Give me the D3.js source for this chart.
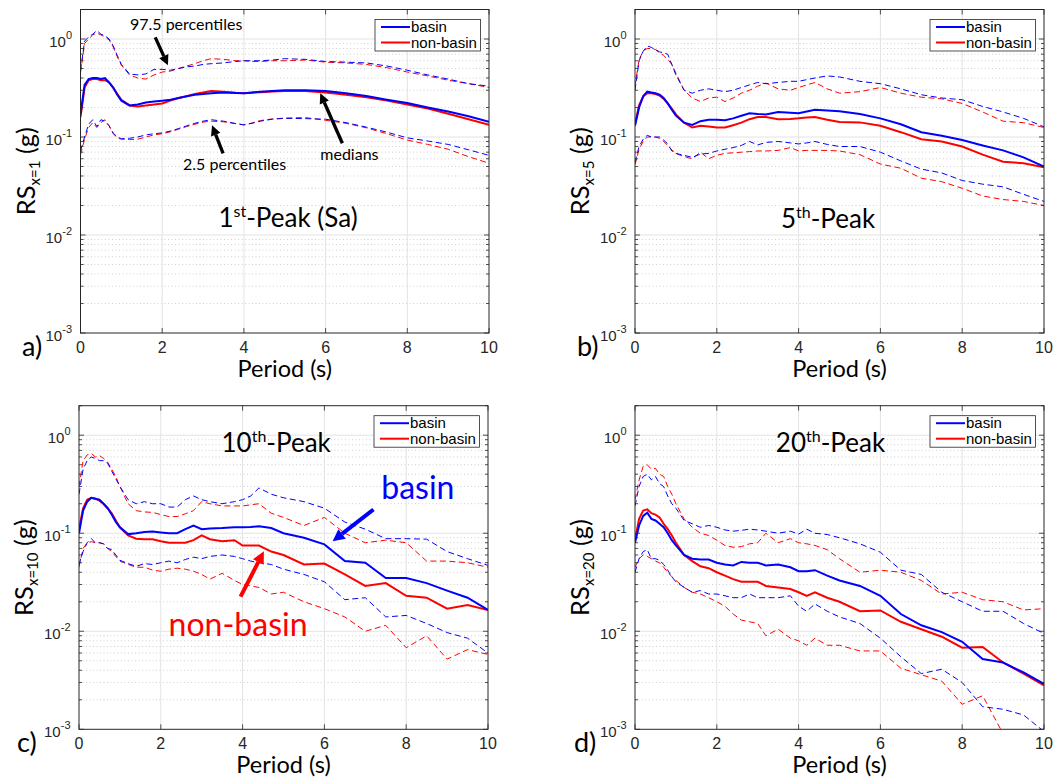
<!DOCTYPE html>
<html>
<head>
<meta charset="utf-8">
<script src="https://cdn.jsdelivr.net/npm/d3@7"></script>
<style>
  body { margin: 0; background: #fff; }
  svg { display: block; }
</style>
</head>
<body>
<svg id="chart" width="1056" height="780"></svg>
<script>
// periods (s) shared by every curve
const periods = [0, 0.1, 0.2, 0.3, 0.4, 0.5, 0.6, 0.7, 0.8, 0.9, 1.0, 1.2, 1.4, 1.6, 1.8, 2.0, 2.2, 2.4, 2.6, 2.8,
  3.0, 3.2, 3.5, 3.8, 4.0, 4.2, 4.4, 4.7, 5.0, 5.5, 6.0, 6.5, 7.0, 7.5, 8.0, 8.5, 9.0, 9.5, 10];

// a) 1st peak
const aBasinHi = [0.48, 0.95, 1.05, 1.12, 1.22, 1.12, 1.08, 1.0, 0.85, 0.68, 0.55, 0.44, 0.43, 0.44, 0.49, 0.49, 0.48, 0.5, 0.52, 0.53,
  0.55, 0.56, 0.57, 0.59, 0.6, 0.6, 0.6, 0.61, 0.63, 0.62, 0.59, 0.58, 0.57, 0.53, 0.48, 0.43, 0.39, 0.35, 0.33];
const aNonHi = [0.45, 0.9, 1.0, 1.1, 1.15, 1.1, 1.05, 0.98, 0.83, 0.66, 0.54, 0.43, 0.4, 0.39, 0.43, 0.46, 0.47, 0.5, 0.53, 0.56,
  0.6, 0.63, 0.62, 0.6, 0.6, 0.59, 0.59, 0.6, 0.6, 0.61, 0.58, 0.57, 0.55, 0.51, 0.46, 0.42, 0.38, 0.35, 0.32];
const aBasinMed = [0.17, 0.34, 0.39, 0.4, 0.4, 0.39, 0.4, 0.36, 0.32, 0.27, 0.235, 0.21, 0.215, 0.225, 0.23, 0.235, 0.24, 0.25, 0.26, 0.27,
  0.275, 0.28, 0.285, 0.282, 0.28, 0.285, 0.29, 0.295, 0.3, 0.3, 0.295, 0.28, 0.262, 0.24, 0.222, 0.2, 0.182, 0.163, 0.143];
const aNonMed = [0.16, 0.32, 0.38, 0.39, 0.39, 0.38, 0.38, 0.36, 0.32, 0.275, 0.24, 0.21, 0.205, 0.21, 0.215, 0.22, 0.235, 0.25, 0.26, 0.275,
  0.285, 0.295, 0.29, 0.283, 0.28, 0.283, 0.287, 0.292, 0.295, 0.295, 0.285, 0.27, 0.255, 0.235, 0.215, 0.195, 0.173, 0.152, 0.133];
const aBasinLo = [0.072, 0.1, 0.135, 0.15, 0.128, 0.15, 0.145, 0.13, 0.11, 0.1, 0.096, 0.097, 0.1, 0.105, 0.108, 0.11, 0.115, 0.122, 0.13, 0.138,
  0.145, 0.15, 0.145, 0.137, 0.133, 0.138, 0.145, 0.152, 0.155, 0.154, 0.152, 0.14, 0.126, 0.112, 0.098, 0.091, 0.084, 0.074, 0.065];
const aNonLo = [0.066, 0.095, 0.125, 0.14, 0.125, 0.14, 0.15, 0.13, 0.108, 0.098, 0.095, 0.094, 0.095, 0.1, 0.105, 0.108, 0.113, 0.12, 0.128, 0.135,
  0.142, 0.145, 0.143, 0.137, 0.133, 0.139, 0.147, 0.153, 0.156, 0.158, 0.148, 0.138, 0.124, 0.108, 0.093, 0.084, 0.075, 0.063, 0.054];

// b) 5th peak
const bBasinHi = [0.3, 0.6, 0.75, 0.85, 0.82, 0.78, 0.74, 0.72, 0.7, 0.55, 0.43, 0.3, 0.28, 0.3, 0.31, 0.3, 0.29, 0.3, 0.32, 0.34,
  0.36, 0.35, 0.36, 0.37, 0.37, 0.385, 0.4, 0.42, 0.41, 0.37, 0.35, 0.31, 0.27, 0.25, 0.24, 0.205, 0.18, 0.155, 0.127];
const bNonHi = [0.33, 0.62, 0.75, 0.8, 0.8, 0.78, 0.72, 0.68, 0.62, 0.55, 0.45, 0.3, 0.25, 0.23, 0.25, 0.255, 0.23, 0.25, 0.28, 0.3,
  0.33, 0.355, 0.31, 0.3, 0.32, 0.34, 0.36, 0.31, 0.28, 0.29, 0.32, 0.28, 0.255, 0.245, 0.22, 0.18, 0.145, 0.14, 0.125];
const bBasinMed = [0.13, 0.2, 0.26, 0.29, 0.285, 0.28, 0.27, 0.25, 0.22, 0.19, 0.165, 0.14, 0.133, 0.145, 0.15, 0.15, 0.148, 0.155, 0.165, 0.175,
  0.172, 0.17, 0.18, 0.177, 0.175, 0.182, 0.19, 0.186, 0.183, 0.172, 0.155, 0.135, 0.112, 0.103, 0.093, 0.082, 0.073, 0.062, 0.05];
const bNonMed = [0.135, 0.21, 0.26, 0.28, 0.28, 0.275, 0.265, 0.245, 0.22, 0.195, 0.17, 0.14, 0.125, 0.13, 0.128, 0.125, 0.125, 0.132, 0.14, 0.152,
  0.16, 0.16, 0.152, 0.153, 0.155, 0.158, 0.16, 0.15, 0.142, 0.141, 0.13, 0.112, 0.095, 0.09, 0.08, 0.066, 0.056, 0.054, 0.049];
const bBasinLo = [0.055, 0.08, 0.095, 0.104, 0.1, 0.1, 0.1, 0.093, 0.085, 0.072, 0.068, 0.065, 0.062, 0.067, 0.068, 0.072, 0.075, 0.078, 0.082, 0.09,
  0.083, 0.088, 0.09, 0.087, 0.085, 0.087, 0.09, 0.084, 0.08, 0.08, 0.07, 0.057, 0.047, 0.043, 0.036, 0.033, 0.031, 0.026, 0.022];
const bNonLo = [0.052, 0.075, 0.09, 0.1, 0.1, 0.1, 0.097, 0.09, 0.082, 0.074, 0.068, 0.063, 0.06, 0.07, 0.06, 0.065, 0.068, 0.069, 0.07, 0.071,
  0.072, 0.072, 0.073, 0.078, 0.072, 0.073, 0.073, 0.073, 0.072, 0.066, 0.053, 0.048, 0.038, 0.035, 0.03, 0.025, 0.023, 0.022, 0.02];

// c) 10th peak
const cBasinHi = [0.25, 0.45, 0.55, 0.6, 0.58, 0.55, 0.55, 0.52, 0.43, 0.36, 0.3, 0.22, 0.2, 0.21, 0.2, 0.2, 0.185, 0.185, 0.22, 0.24,
  0.22, 0.21, 0.2, 0.21, 0.22, 0.24, 0.29, 0.25, 0.23, 0.21, 0.18, 0.13, 0.11, 0.088, 0.088, 0.087, 0.065, 0.055, 0.047];
const cNonHi = [0.3, 0.55, 0.63, 0.65, 0.6, 0.62, 0.58, 0.53, 0.45, 0.38, 0.3, 0.2, 0.17, 0.165, 0.163, 0.155, 0.148, 0.148, 0.158, 0.17,
  0.21, 0.2, 0.19, 0.19, 0.19, 0.195, 0.2, 0.16, 0.145, 0.12, 0.145, 0.1, 0.08, 0.085, 0.08, 0.052, 0.052, 0.05, 0.045];
const cBasinMed = [0.1, 0.17, 0.21, 0.23, 0.225, 0.22, 0.2, 0.18, 0.155, 0.13, 0.115, 0.098, 0.1, 0.103, 0.104, 0.102, 0.1, 0.1, 0.11, 0.12,
  0.11, 0.112, 0.113, 0.115, 0.115, 0.116, 0.118, 0.113, 0.1, 0.09, 0.077, 0.052, 0.05, 0.035, 0.035, 0.031, 0.026, 0.022, 0.0165];
const cNonMed = [0.11, 0.18, 0.22, 0.23, 0.225, 0.215, 0.2, 0.18, 0.16, 0.135, 0.115, 0.095, 0.088, 0.087, 0.087, 0.083, 0.08, 0.08, 0.08, 0.085,
  0.095, 0.087, 0.083, 0.085, 0.075, 0.075, 0.075, 0.065, 0.06, 0.048, 0.049, 0.038, 0.029, 0.031, 0.023, 0.022, 0.017, 0.0185, 0.0165];
const cBasinLo = [0.048, 0.065, 0.08, 0.088, 0.08, 0.08, 0.078, 0.07, 0.068, 0.06, 0.053, 0.049, 0.046, 0.049, 0.048, 0.05, 0.052, 0.05, 0.054, 0.057,
  0.055, 0.058, 0.06, 0.058, 0.055, 0.052, 0.05, 0.048, 0.043, 0.038, 0.032, 0.021, 0.022, 0.014, 0.0145, 0.012, 0.0097, 0.0085, 0.006];
const cNonLo = [0.045, 0.07, 0.08, 0.082, 0.08, 0.08, 0.078, 0.07, 0.065, 0.058, 0.052, 0.048, 0.045, 0.045, 0.042, 0.041, 0.043, 0.044, 0.043, 0.041,
  0.038, 0.034, 0.039, 0.033, 0.03, 0.029, 0.028, 0.024, 0.025, 0.02, 0.017, 0.014, 0.01, 0.0115, 0.0068, 0.009, 0.0052, 0.0065, 0.0058];

// d) 20th peak
const dBasinHi = [0.19, 0.3, 0.38, 0.4, 0.35, 0.38, 0.32, 0.3, 0.24, 0.2, 0.18, 0.135, 0.125, 0.115, 0.12, 0.115, 0.108, 0.105, 0.107, 0.11,
  0.108, 0.105, 0.1, 0.105, 0.098, 0.11, 0.1, 0.097, 0.09, 0.078, 0.064, 0.042, 0.038, 0.025, 0.02, 0.016, 0.016, 0.012, 0.0095];
const dNonHi = [0.22, 0.35, 0.48, 0.5, 0.45, 0.46, 0.4, 0.38, 0.3, 0.25, 0.2, 0.14, 0.115, 0.1, 0.095, 0.085, 0.075, 0.072, 0.073, 0.078,
  0.08, 0.1, 0.08, 0.088, 0.08, 0.078, 0.075, 0.068, 0.055, 0.04, 0.042, 0.04, 0.033, 0.024, 0.025, 0.021, 0.02, 0.0165, 0.017];
const dBasinMed = [0.08, 0.12, 0.15, 0.162, 0.14, 0.135, 0.125, 0.115, 0.1, 0.085, 0.075, 0.06, 0.055, 0.054, 0.054, 0.05, 0.048, 0.047, 0.051, 0.05,
  0.05, 0.047, 0.048, 0.045, 0.041, 0.041, 0.042, 0.037, 0.033, 0.029, 0.023, 0.015, 0.0115, 0.0098, 0.0078, 0.0052, 0.0048, 0.0038, 0.0029];
const dNonMed = [0.085, 0.14, 0.17, 0.175, 0.16, 0.155, 0.145, 0.125, 0.11, 0.095, 0.08, 0.06, 0.052, 0.046, 0.044, 0.04, 0.037, 0.034, 0.032, 0.032,
  0.032, 0.029, 0.028, 0.027, 0.025, 0.023, 0.025, 0.022, 0.02, 0.016, 0.0163, 0.0125, 0.0105, 0.0088, 0.0068, 0.0069, 0.0048, 0.0037, 0.0028];
const dBasinLo = [0.04, 0.055, 0.065, 0.068, 0.055, 0.055, 0.053, 0.048, 0.042, 0.036, 0.032, 0.028, 0.025, 0.026, 0.024, 0.024, 0.023, 0.022, 0.022, 0.024,
  0.022, 0.022, 0.022, 0.023, 0.018, 0.016, 0.019, 0.016, 0.014, 0.012, 0.0085, 0.0055, 0.0037, 0.0041, 0.003, 0.0017, 0.0016, 0.0014, 0.00095];
const dNonLo = [0.045, 0.055, 0.06, 0.058, 0.055, 0.052, 0.05, 0.045, 0.04, 0.036, 0.033, 0.028, 0.025, 0.024, 0.022, 0.02, 0.018, 0.015, 0.013, 0.0125,
  0.012, 0.009, 0.0105, 0.0085, 0.008, 0.0072, 0.0085, 0.0072, 0.0072, 0.0063, 0.0063, 0.0042, 0.0036, 0.0031, 0.0018, 0.0022, 0.0009, 0.0006, 0.0005];

const xTicks = [0, 2, 4, 6, 8, 10];
const yTicks = [1e-3, 1e-2, 1e-1, 1];
const yTickExp = ['-3', '-2', '-1', '0'];
const legendLabels = ['basin', 'non-basin'];

const BLUE = '#0000ff', RED = '#ff0000', INK = '#262626';
const LABEL_FONT = 'Lato, "Open Sans", sans-serif';
const TICK_FONT = '"Liberation Sans", Arial, sans-serif';

const panels = [
  { tag: 'a)', tagDx: -58.5, sub: 'x=1', left: 80.5, right: 489, top: 9.5, bottom: 333,
    basin: [aBasinHi, aBasinMed, aBasinLo], non: [aNonHi, aNonMed, aNonLo],
    title: ['1', 'st', '-Peak (Sa)'], titleAt: [5.08, 0.012] },
  { tag: 'b)', tagDx: -58, sub: 'x=5', left: 635, right: 1044, top: 9.5, bottom: 333,
    basin: [bBasinHi, bBasinMed, bBasinLo], non: [bNonHi, bNonMed, bNonLo],
    title: ['5', 'th', '-Peak'], titleAt: [4.72, 0.0118] },
  { tag: 'c)', tagDx: -62, sub: 'x=10', left: 79, right: 488, top: 405.7, bottom: 729.3,
    basin: [cBasinHi, cBasinMed, cBasinLo], non: [cNonHi, cNonMed, cNonLo],
    title: ['10', 'th', '-Peak'], titleAt: [4.82, 0.67] },
  { tag: 'd)', tagDx: -61, sub: 'x=20', left: 635, right: 1044, top: 405.7, bottom: 729.3,
    basin: [dBasinHi, dBasinMed, dBasinLo], non: [dNonHi, dNonMed, dNonLo],
    title: ['20', 'th', '-Peak'], titleAt: [4.78, 0.67] }
];

const svg = d3.select('#chart');

function arrow(g, x1, y1, x2, y2, color, w, hl, hw) {
  const ang = Math.atan2(y2 - y1, x2 - x1);
  const bx = x2 - hl * Math.cos(ang), by = y2 - hl * Math.sin(ang);
  const px = -Math.sin(ang) * hw / 2, py = Math.cos(ang) * hw / 2;
  g.append('line')
    .attr('x1', x1).attr('y1', y1).attr('x2', bx).attr('y2', by)
    .attr('stroke', color).attr('stroke-width', w);
  g.append('path')
    .attr('d', `M${x2},${y2}L${bx + px},${by + py}L${bx - px},${by - py}Z`)
    .attr('fill', color);
}

panels.forEach((p, i) => {
  const x = d3.scaleLinear().domain([0, 10]).range([p.left, p.right]);
  const y = d3.scaleLog().domain([1e-3, 2]).range([p.bottom, p.top]);
  const g = svg.append('g');

  // grid
  const minors = [];
  [1e-3, 1e-2, 1e-1].forEach(d => { for (let k = 2; k <= 9; k++) minors.push(d * k); });

  g.append('g').selectAll('line').data(minors).join('line')
    .attr('x1', p.left).attr('x2', p.right)
    .attr('y1', d => y(d)).attr('y2', d => y(d))
    .attr('stroke', '#c4c4c4').attr('stroke-width', 0.8).attr('stroke-dasharray', '1,2.5');

  g.append('g').selectAll('line').data([1e-2, 1e-1, 1]).join('line')
    .attr('x1', p.left).attr('x2', p.right)
    .attr('y1', d => y(d)).attr('y2', d => y(d))
    .attr('stroke', '#e3e3e3').attr('stroke-width', 1);

  g.append('g').selectAll('line').data([2, 4, 6, 8]).join('line')
    .attr('x1', d => x(d)).attr('x2', d => x(d))
    .attr('y1', p.top).attr('y2', p.bottom)
    .attr('stroke', '#e3e3e3').attr('stroke-width', 1);

  // curves
  const clipId = 'clip' + i;
  svg.append('clipPath').attr('id', clipId).append('rect')
    .attr('x', p.left).attr('y', p.top)
    .attr('width', p.right - p.left).attr('height', p.bottom - p.top);

  const line = d3.line().x(d => x(d[0])).y(d => y(d[1]));
  const curves = g.append('g').attr('clip-path', `url(#${clipId})`);

  [[p.non, RED], [p.basin, BLUE]].forEach(([set, col]) => {
    set.forEach((vals, j) => {
      curves.append('path')
        .datum(d3.zip(periods, vals))
        .attr('d', line)
        .attr('fill', 'none')
        .attr('stroke', col)
        .attr('stroke-width', j === 1 ? 2 : 1)
        .attr('stroke-dasharray', j === 1 ? null : '6,3.5');
    });
  });

  // axes box with inward ticks
  g.append('rect')
    .attr('x', p.left).attr('y', p.top)
    .attr('width', p.right - p.left).attr('height', p.bottom - p.top)
    .attr('fill', 'none').attr('stroke', INK).attr('stroke-width', 1);

  const ticks = g.append('g').attr('stroke', INK).attr('stroke-width', 0.8);
  xTicks.forEach(t => {
    ticks.append('line').attr('x1', x(t)).attr('x2', x(t)).attr('y1', p.bottom).attr('y2', p.bottom - 5);
    ticks.append('line').attr('x1', x(t)).attr('x2', x(t)).attr('y1', p.top).attr('y2', p.top + 5);
  });
  yTicks.forEach(t => {
    ticks.append('line').attr('x1', p.left).attr('x2', p.left + 5).attr('y1', y(t)).attr('y2', y(t));
    ticks.append('line').attr('x1', p.right).attr('x2', p.right - 5).attr('y1', y(t)).attr('y2', y(t));
  });
  minors.concat([2]).forEach(t => {
    ticks.append('line').attr('x1', p.left).attr('x2', p.left + 3).attr('y1', y(t)).attr('y2', y(t));
    ticks.append('line').attr('x1', p.right).attr('x2', p.right - 3).attr('y1', y(t)).attr('y2', y(t));
  });

  // tick labels
  g.append('g').selectAll('text').data(xTicks).join('text')
    .attr('x', d => x(d)).attr('y', p.bottom + 19.5)
    .attr('text-anchor', 'middle')
    .attr('font-family', TICK_FONT).attr('font-size', 16).attr('fill', INK)
    .text(d => d);

  yTicks.forEach((t, k) => {
    const tx = g.append('text')
      .attr('x', p.left - 8.5).attr('y', y(t) + 8)
      .attr('text-anchor', 'end')
      .attr('font-family', TICK_FONT).attr('font-size', 15).attr('fill', INK);
    tx.append('tspan').text('10');
    tx.append('tspan').attr('dy', -8).attr('font-size', 11).text(yTickExp[k]);
  });

  // axis labels
  g.append('text')
    .attr('x', (p.left + p.right) / 2).attr('y', p.bottom + 43.5)
    .attr('text-anchor', 'middle')
    .attr('font-family', LABEL_FONT).attr('font-size', 23.5).attr('fill', '#000')
    .text('Period (s)');

  const yl = g.append('text')
    .attr('transform', `translate(${p.left - 46},${(p.top + p.bottom) / 2}) rotate(-90)`)
    .attr('text-anchor', 'middle')
    .attr('font-family', LABEL_FONT).attr('font-size', 25.5).attr('fill', '#000');
  yl.append('tspan').text('RS');
  yl.append('tspan').attr('font-size', 15).attr('dy', 5).text(p.sub);
  yl.append('tspan').attr('dy', -5).text(' (g)');

  g.append('text')
    .attr('x', p.left + p.tagDx).attr('y', p.bottom + 23)
    .attr('font-family', LABEL_FONT).attr('font-size', 27).attr('fill', '#000')
    .text(p.tag);

  // title
  const tt = g.append('text')
    .attr('x', x(p.titleAt[0])).attr('y', y(p.titleAt[1]))
    .attr('text-anchor', 'middle')
    .attr('font-family', LABEL_FONT).attr('font-size', 26).attr('fill', '#000');
  tt.append('tspan').text(p.title[0]);
  tt.append('tspan').attr('font-size', 16).attr('dy', -10).text(p.title[1]);
  tt.append('tspan').attr('dy', 10).text(p.title[2]);

  // legend
  const lw = 105.5, lh = 31.5;
  const lx = p.right - 8.5 - lw, ly = p.top + 10;
  const leg = g.append('g');
  leg.append('rect').attr('x', lx).attr('y', ly).attr('width', lw).attr('height', lh)
    .attr('fill', '#fff').attr('stroke', INK).attr('stroke-width', 0.8);
  legendLabels.forEach((lab, k) => {
    const yy = ly + 7.5 + k * 15.5;
    leg.append('line').attr('x1', lx + 6).attr('x2', lx + 35).attr('y1', yy).attr('y2', yy)
      .attr('stroke', k === 0 ? BLUE : RED).attr('stroke-width', 2);
    leg.append('text').attr('x', lx + 36).attr('y', yy + 5)
      .attr('font-family', TICK_FONT).attr('font-size', 15).attr('fill', '#000')
      .text(lab);
  });

  // annotations
  if (p.tag === 'a)') {
    const note = (t, at) => g.append('text')
      .attr('x', x(at[0])).attr('y', y(at[1]))
      .attr('font-family', LABEL_FONT).attr('font-size', 16).attr('fill', '#000').text(t);
    note('97.5 percentiles', [1.21, 1.23]);
    note('2.5 percentiles', [2.51, 0.0457]);
    note('medians', [5.87, 0.0578]);
    arrow(g, x(1.83), y(1.04), x(2.14), y(0.54), '#000', 3.3, 10, 10);
    arrow(g, x(3.49), y(0.068), x(3.22), y(0.1316), '#000', 3.3, 10, 10);
    arrow(g, x(6.41), y(0.0863), x(5.87), y(0.279), '#000', 3.3, 10, 10);
  }
  if (p.tag === 'c)') {
    g.append('text').attr('x', x(7.39)).attr('y', y(0.221))
      .attr('font-family', LABEL_FONT).attr('font-size', 32).attr('fill', BLUE).text('basin');
    g.append('text').attr('x', x(2.19)).attr('y', y(0.0089))
      .attr('font-family', LABEL_FONT).attr('font-size', 32).attr('fill', RED).text('non-basin');
    arrow(g, x(7.2), y(0.1745), x(6.2), y(0.0828), BLUE, 4, 12, 12);
    arrow(g, x(3.95), y(0.0226), x(4.52), y(0.0655), RED, 4, 12, 12);
  }
});
</script>
</body>
</html>
